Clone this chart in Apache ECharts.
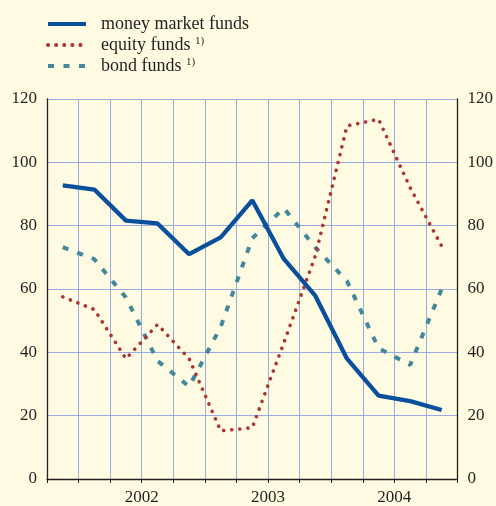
<!DOCTYPE html>
<html>
<head>
<meta charset="utf-8">
<script src="https://cdn.jsdelivr.net/npm/echarts@6/dist/echarts.min.js"></script>
<style>
  html, body { margin: 0; padding: 0; background: #fefbe2; }
  #chart { width: 496px; height: 506px; }
</style>
</head>
<body>
<div id="chart"></div>
<script>
// quarterly data, Q4 2001 .. Q4 2004
var quarters = ['2001 Q4', '2002 Q1', '2002 Q2', '2002 Q3', '2002 Q4', '2003 Q1', '2003 Q2',
  '2003 Q3', '2003 Q4', '2004 Q1', '2004 Q2', '2004 Q3', '2004 Q4']
var years = ['2002', '2003', '2004']
var moneyMarket = [92.7, 91.4, 81.6, 80.7, 71.0, 76.3, 88.0, 69.5, 57.8, 38.0, 26.3, 24.6, 21.8]
var equity = [57.5, 53.5, 38.0, 48.8, 38.0, 15.2, 16.2, 43.0, 70.5, 111.5, 113.6, 92.0, 73.5]
var bond = [73.2, 69.4, 57.3, 37.3, 29.2, 48.0, 76.0, 85.5, 73.1, 62.5, 41.3, 36.0, 60.0]
var yMin = 0
var yMax = 120
var yStep = 20
var legendOrder = ['money market funds', 'equity funds', 'bond funds']
var footnoted = ['equity funds', 'bond funds']

var font = 'Liberation Serif'
var ink = '#231f20'
var gridBlue = '#9aabe2'

// year label sits in the middle of its quarters
var yearAt = {}
years.forEach(function(y) {
  var idx = []
  quarters.forEach(function(q, i) { if (q.indexOf(y) === 0) idx.push(i) })
  yearAt[(idx[0] + idx[idx.length - 1] + 1) / 2] = y
})

function pts(values) {
  return values.map(function(v, i) { return [i + 0.5, v] })
}

var chart = echarts.init(document.getElementById('chart'))

var yAxisBase = {
  type: 'value',
  min: yMin,
  max: yMax,
  interval: yStep,
  axisLine: { show: true, onZero: false, lineStyle: { color: ink, width: 1.3 } },
  axisTick: { show: false },
  axisLabel: { margin: 10, fontSize: 17, fontFamily: font, color: ink }
}

chart.setOption({
  backgroundColor: '#fefbe2',
  animation: false,
  grid: { left: 47, right: 38, top: 99, bottom: 27 },
  legend: {
    data: legendOrder,
    orient: 'vertical',
    left: 41,
    top: 10,
    itemWidth: 38,
    itemHeight: 14,
    itemGap: 3,
    itemStyle: { opacity: 0 },
    lineStyle: { width: 4 },
    textStyle: {
      fontFamily: font,
      fontSize: 18,
      color: ink,
      padding: [0, 0, 0, 10],
      rich: {
        sup: { fontFamily: font, fontSize: 11, color: ink, verticalAlign: 'top', lineHeight: 18 }
      }
    },
    formatter: function(name) {
      return footnoted.indexOf(name) >= 0 ? name + ' {sup|1)}' : name
    }
  },
  xAxis: {
    type: 'value',
    min: 0,
    max: quarters.length,
    interval: 1,
    axisLine: { onZero: false, lineStyle: { color: ink, width: 1.3 } },
    axisTick: { show: true, length: 4, lineStyle: { color: ink } },
    splitLine: { show: true, lineStyle: { color: gridBlue, width: 1 } },
    axisLabel: {
      margin: 10,
      fontSize: 17,
      fontFamily: font,
      color: ink,
      formatter: function(v) { return yearAt[v] || '' }
    }
  },
  yAxis: [
    Object.assign({}, yAxisBase, {
      position: 'left',
      splitLine: { show: true, lineStyle: { color: gridBlue, width: 1 } }
    }),
    Object.assign({}, yAxisBase, {
      position: 'right',
      splitLine: { show: false }
    })
  ],
  series: [
    {
      name: 'bond funds',
      type: 'line',
      data: pts(bond),
      symbol: 'none',
      lineStyle: { color: '#42879a', width: 4, type: [6, 9.5] },
      itemStyle: { color: '#42879a' }
    },
    {
      name: 'equity funds',
      type: 'line',
      data: pts(equity),
      symbol: 'none',
      lineStyle: { color: '#ad3434', width: 3.6, type: [0.1, 8], cap: 'round' },
      itemStyle: { color: '#ad3434' }
    },
    {
      name: 'money market funds',
      type: 'line',
      data: pts(moneyMarket),
      symbol: 'none',
      lineStyle: { color: '#0a4f9e', width: 4.3 },
      itemStyle: { color: '#0a4f9e' }
    }
  ]
})
</script>
</body>
</html>
